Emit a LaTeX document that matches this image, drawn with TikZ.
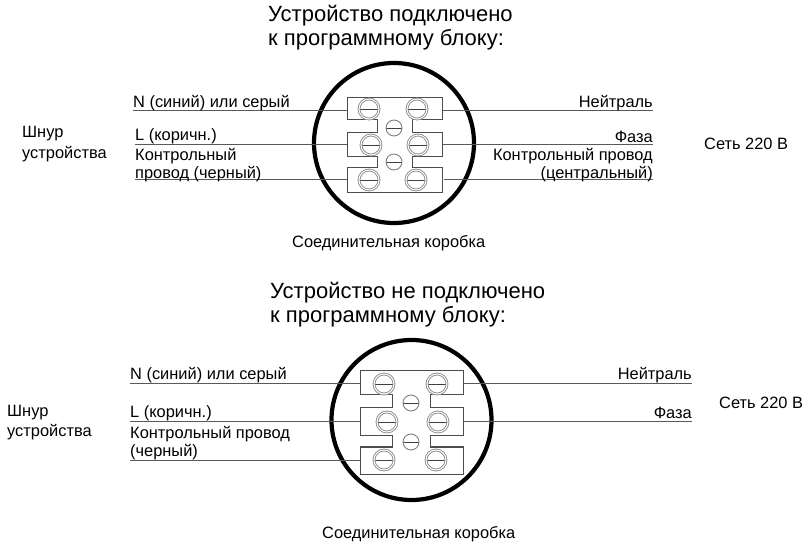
\documentclass[tikz,border=0pt]{standalone}
\usepackage{fontspec}
\setmainfont{Liberation Sans}
\usepackage{tikz}

\begin{document}
\begin{tikzpicture}[x=1pt,y=-1pt]
\tikzstyle{title}=[anchor=west, inner sep=0pt, align=left, font=\fontsize{22}{24}\selectfont]
\tikzstyle{labl}=[anchor=west, inner sep=0pt, align=left, font=\fontsize{16.4}{18}\selectfont]
\tikzstyle{labr}=[anchor=east, inner sep=0pt, align=right, font=\fontsize{16.4}{18}\selectfont]
\tikzstyle{cord}=[anchor=west, inner sep=0pt, align=left, font=\fontsize{16.4}{20.5}\selectfont]
\tikzstyle{wire}=[draw=black!65, line width=1pt]
\tikzstyle{block}=[draw=black!70, line width=1pt, line join=miter]
\tikzstyle{box}=[draw=black, line width=4.2pt]
\tikzstyle{screw}=[circle, draw=black!45, double=white, double distance=1pt, line width=0.9pt, inner sep=0pt, minimum size=20pt,
  path picture={\draw[black!75, line width=0.9pt] (path picture bounding box.west) -- (path picture bounding box.east);}]
\tikzstyle{pin}=[circle, draw=black!50, line width=0.9pt, fill=white, inner sep=0pt, minimum size=16pt,
  path picture={\draw[black!75, line width=0.9pt] (path picture bounding box.west) -- (path picture bounding box.east);}]

\useasboundingbox (0,0) rectangle (807,548);

% upper box
\node[title] (head1) at (268,27.5) {Устройство подключено\\к программному блоку:};
\draw[box] (394,143) circle (80);
\coordinate (a1) at (347,111);
\coordinate (a2) at (347,145);
\coordinate (a3) at (347,180);
\coordinate (b1) at (442,111);
\coordinate (b2) at (442,145);
\coordinate (b3) at (444,180);
\coordinate (la1) at (133,111);
\coordinate (la2) at (135,145);
\coordinate (la3) at (135,180);
\coordinate (ra1) at (653,111);
\coordinate (ra2) at (653,145);
\coordinate (ra3) at (653,180);
\draw[wire] (la1) -- (a1);
\draw[wire] (la2) -- (a2);
\draw[wire] (la3) -- (a3);
\draw[wire] (b1) -- (ra1);
\draw[wire] (b2) -- (ra2);
\draw[wire] (b3) -- (ra3);
\draw[block] (347,98) -- (442,98) -- (442,120) -- (412,120) -- (412,133) -- (442,133) -- (442,157) -- (412,157) -- (412,168) -- (442,168) -- (442,193)
  -- (347,193) -- (347,168) -- (377,168) -- (377,157) -- (347,157) -- (347,133) -- (377,133) -- (377,120) -- (347,120) -- cycle;
\node[screw] (s1) at (369,109) {};
\node[screw] (s2) at (417,109) {};
\node[screw] (s3) at (371,145) {};
\node[screw] (s4) at (418,145) {};
\node[screw] (s5) at (369,180) {};
\node[screw] (s6) at (416,180) {};
\node[pin] (p1) at (394,128) {};
\node[pin] (p2) at (394,162) {};
\node[labl] (n1) at (133,103) {N (синий) или серый};
\node[labl] (l1) at (135,136) {L (коричн.)};
\node[labl] (c1) at (135,165) {Контрольный\\провод (черный)};
\node[cord] (cord1) at (22,144) {Шнур\\устройства};
\node[labr] (neu1) at (653,103) {Нейтраль};
\node[labr] (ph1) at (653,137) {Фаза};
\node[labr] (cc1) at (653,165) {Контрольный провод\\(центральный)};
\node[labl] (net1) at (704,144) {Сеть 220 В};
\node[labl] (cap1) at (292,243) {Соединительная коробка};

% lower box
\node[title] (head2) at (270,304.5) {Устройство не подключено\\к программному блоку:};
\draw[box] (411.5,420) circle (80);
\coordinate (a4) at (360,384);
\coordinate (a5) at (360,422);
\coordinate (a6) at (360,460);
\coordinate (b4) at (463,384);
\coordinate (b5) at (463,422);
\coordinate (la4) at (130,384);
\coordinate (la5) at (130,422);
\coordinate (la6) at (130,460);
\coordinate (ra4) at (692,384);
\coordinate (ra5) at (692,422);
\draw[wire] (la4) -- (a4);
\draw[wire] (la5) -- (a5);
\draw[wire] (la6) -- (a6);
\draw[wire] (b4) -- (ra4);
\draw[wire] (b5) -- (ra5);
\draw[block] (360,371) -- (463,371) -- (463,395) -- (430,395) -- (430,408) -- (463,408) -- (463,436) -- (430,436) -- (430,447) -- (463,447) -- (463,474)
  -- (360,474) -- (360,447) -- (392,447) -- (392,436) -- (360,436) -- (360,408) -- (392,408) -- (392,395) -- (360,395) -- cycle;
\node[screw] (s7) at (384,384) {};
\node[screw] (s8) at (437,384) {};
\node[screw] (s9) at (387,422) {};
\node[screw] (s10) at (438,422) {};
\node[screw] (s11) at (384,460) {};
\node[screw] (s12) at (436,460) {};
\node[pin] (p3) at (411,403) {};
\node[pin] (p4) at (411,442) {};
\node[labl] (n2) at (130,375) {N (синий) или серый};
\node[labl] (l2) at (130,413) {L (коричн.)};
\node[labl] (c2) at (130,443.5) {Контрольный провод\\(черный)};
\node[cord] (cord2) at (7,422.5) {Шнур\\устройства};
\node[labr] (neu2) at (692,375) {Нейтраль};
\node[labr] (ph2) at (692,413) {Фаза};
\node[labl] (net2) at (719,403) {Сеть 220 В};
\node[labl] (cap2) at (322,534) {Соединительная коробка};
\end{tikzpicture}
\end{document}
